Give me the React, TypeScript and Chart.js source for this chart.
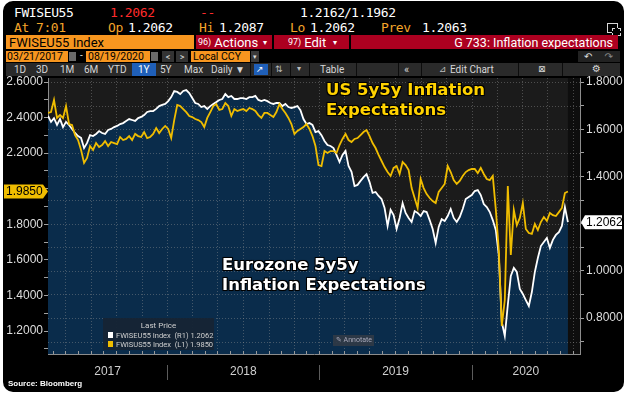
import React, { useEffect, useRef } from "react";
import { Chart, registerables } from "chart.js";

Chart.register(...registerables);

// ---------- data ----------
const START_UTC = Date.UTC(2017, 2, 21);
const END_UTC = Date.UTC(2020, 7, 19);
const MS_DAY = 86400000;
const X_AXIS_MAX_DAYS = 1276;

const yearLabels = ["2017", "2018", "2019", "2020"];
const leftTickValues = [1.1, 1.2, 1.3, 1.4, 1.5, 1.6, 1.7, 1.8, 1.9, 2.0, 2.1, 2.2, 2.3, 2.4, 2.5, 2.6];
const rightTickValues = [0.7, 0.8, 0.9, 1.0, 1.1, 1.2, 1.3, 1.4, 1.5, 1.6, 1.7, 1.8];

// FWISEU55 Index (Eurozone 5y5y), right axis, roughly weekly
const euValues = [
  1.656, 1.631, 1.647, 1.618, 1.643, 1.609, 1.631, 1.618, 1.601, 1.584,
  1.571, 1.563, 1.520, 1.542, 1.575, 1.571, 1.580, 1.592, 1.584, 1.580,
  1.597, 1.601, 1.609, 1.614, 1.622, 1.626, 1.635, 1.643, 1.639, 1.635,
  1.647, 1.652, 1.660, 1.673, 1.677, 1.677, 1.686, 1.698, 1.703, 1.707,
  1.719, 1.736, 1.762, 1.758, 1.749, 1.762, 1.766, 1.753, 1.732, 1.711,
  1.707, 1.694, 1.698, 1.686, 1.698, 1.707, 1.715, 1.724, 1.728, 1.749,
  1.736, 1.741, 1.728, 1.728, 1.732, 1.732, 1.728, 1.736, 1.736, 1.741,
  1.724, 1.719, 1.724, 1.719, 1.711, 1.707, 1.711, 1.711, 1.698, 1.707,
  1.694, 1.690, 1.694, 1.698, 1.681, 1.643, 1.622, 1.626, 1.618, 1.588,
  1.592, 1.575, 1.550, 1.533, 1.529, 1.520, 1.491, 1.461, 1.491, 1.508,
  1.444, 1.419, 1.359, 1.364, 1.381, 1.397, 1.410, 1.376, 1.330, 1.334,
  1.317, 1.304, 1.266, 1.190, 1.258, 1.236, 1.177, 1.224, 1.287, 1.245,
  1.224, 1.207, 1.253, 1.245, 1.232, 1.253, 1.249, 1.215, 1.177, 1.118,
  1.186, 1.219, 1.211, 1.232, 1.262, 1.224, 1.207, 1.228, 1.262, 1.304,
  1.313, 1.321, 1.338, 1.342, 1.321, 1.283, 1.270, 1.249, 1.215, 1.173,
  1.067, 0.783, 0.724, 0.855, 0.978, 1.012, 0.995, 0.923, 0.902, 0.876,
  0.851, 0.910, 0.995, 1.054, 1.105, 1.122, 1.139, 1.097, 1.131, 1.152,
  1.164, 1.190, 1.270, 1.2062,
];

// FWISUS55 Index (US 5y5y), left axis, roughly weekly
const usValues = [
  2.426, 2.431, 2.499, 2.398, 2.414, 2.398, 2.465, 2.364, 2.358, 2.302,
  2.274, 2.218, 2.145, 2.173, 2.240, 2.218, 2.257, 2.235, 2.246, 2.268,
  2.240, 2.263, 2.257, 2.251, 2.291, 2.274, 2.280, 2.296, 2.274, 2.308,
  2.296, 2.291, 2.319, 2.285, 2.291, 2.308, 2.341, 2.313, 2.336, 2.353,
  2.336, 2.285, 2.386, 2.471, 2.465, 2.448, 2.431, 2.409, 2.403, 2.392,
  2.386, 2.375, 2.347, 2.398, 2.431, 2.465, 2.476, 2.443, 2.448, 2.482,
  2.465, 2.409, 2.448, 2.437, 2.443, 2.448, 2.437, 2.454, 2.448, 2.437,
  2.414, 2.398, 2.426, 2.426, 2.414, 2.403, 2.431, 2.476, 2.448, 2.426,
  2.398, 2.364, 2.308, 2.325, 2.336, 2.347, 2.364, 2.336, 2.296, 2.240,
  2.133, 2.128, 2.212, 2.201, 2.212, 2.212, 2.201, 2.246, 2.280, 2.308,
  2.274, 2.263, 2.280, 2.285, 2.302, 2.319, 2.330, 2.296, 2.257, 2.229,
  2.190, 2.156, 2.122, 2.094, 2.072, 2.117, 2.128, 2.083, 2.150, 2.133,
  2.105, 2.004, 1.948, 1.892, 2.055, 2.004, 1.970, 1.948, 1.931, 1.920,
  1.982, 2.004, 2.027, 2.128, 2.094, 2.049, 2.027, 2.044, 2.072, 2.094,
  2.105, 2.111, 2.111, 2.088, 2.117, 2.083, 2.055, 2.049, 2.072, 1.886,
  1.656, 1.229, 1.375, 2.015, 1.628, 1.881, 1.796, 1.836, 1.920, 1.774,
  1.751, 1.746, 1.802, 1.768, 1.813, 1.841, 1.819, 1.864, 1.852, 1.847,
  1.869, 1.892, 1.976, 1.985,
];

const lastEU = 1.2062;
const lastUS = 1.985;

const LEFT_MIN = 1.0715;
const LEFT_MAX = 2.6225;
const RIGHT_MIN = 0.6475;
const RIGHT_MAX = 1.817;

// ---------- styles ----------
const YELLOW = "#f0bd00";
const YELLOW_TXT = "#ffd200";
const NAVY = "#0a2c4b";
const PLOT_BG = "#1b1b1b";
const PLOT_BG_AFTER = "#0e0e0e";
const GRID = "rgba(150,150,150,0.42)";
const MONO = '"DejaVu Sans Mono", "Liberation Mono", monospace';
const SANS = 'Roboto, "Liberation Sans", sans-serif';
const ARIAL = '"Liberation Sans", Arial, sans-serif';
const DJ = '"DejaVu Sans", Verdana, sans-serif';
const ORANGE_TXT = "#f4a52a";
const ORANGE_BOX = "#f7961f";
const RED_BOX = "#ac0020";
const RED_TXT = "#ff2b2b";

function tickLabel(v: number, last: number) {
  const t = Math.round(v * 10);
  if (t % 2 !== 0) return "";
  if (Math.abs(v - last) < 0.06) return "";
  return v.toFixed(4);
}

const T = ({ x, y, c = "#fff", s = 12, f = SANS, w = 400, children, st }: any) => (
  <div
    style={{
      position: "absolute",
      left: x,
      top: y,
      color: c,
      fontSize: s,
      fontFamily: f,
      fontWeight: w,
      lineHeight: 1,
      whiteSpace: "pre",
      ...st,
    }}
  >
    {children}
  </div>
);

const Box = ({ x, y, w, h, bg, children, st }: any) => (
  <div
    style={{
      position: "absolute",
      left: x,
      top: y,
      width: w,
      height: h,
      background: bg,
      display: "flex",
      alignItems: "center",
      overflow: "hidden",
      whiteSpace: "pre",
      ...st,
    }}
  >
    {children}
  </div>
);

const monoSt = { letterSpacing: -0.4 };
const outline = "1px 1px 0 #000, -1px -1px 0 #000, 1px -1px 0 #000, -1px 1px 0 #000, 0 0 2px #000";

export default function App() {
  const ref = useRef<HTMLCanvasElement>(null);

  useEffect(() => {
    const canvas = ref.current as HTMLCanvasElement;
    const span = (END_UTC - START_UTC) / MS_DAY;
    const step = span / (euValues.length - 1);
    const euData = euValues.map((v, i) => ({ x: i * step, y: v }));
    const usData = usValues.map((v, i) => ({ x: i * step, y: v }));
    const dayOf = (y: number, m: number) => (Date.UTC(y, m, 1) - START_UTC) / MS_DAY;
    const boundaries = [2018, 2019, 2020].map((y) => dayOf(y, 0));
    const edges = [0, ...boundaries, X_AXIS_MAX_DAYS];
    const yearMids = yearLabels.map((_, i) => (edges[i] + edges[i + 1]) / 2);
    const monthStarts: { d: number; m: number }[] = [];
    for (let y = 2017; y <= 2020; y++) {
      for (let m = 0; m < 12; m++) {
        const d = dayOf(y, m);
        if (d > 0 && d < X_AXIS_MAX_DAYS) monthStarts.push({ d, m });
      }
    }

    const decor = {
      id: "bbgDecor",
      beforeDraw(chart: any) {
        const { ctx, chartArea: a, scales } = chart;
        ctx.save();
        ctx.fillStyle = PLOT_BG;
        ctx.fillRect(a.left, a.top, a.right - a.left, a.bottom - a.top);
        const xEnd = scales.x.getPixelForValue(span);
        ctx.fillStyle = PLOT_BG_AFTER;
        ctx.fillRect(xEnd, a.top, a.right - xEnd, a.bottom - a.top);
        ctx.restore();
      },
      beforeDatasetsDraw(chart: any) {
        const { ctx, chartArea: a, scales } = chart;
        ctx.save();
        ctx.beginPath();
        ctx.rect(a.left, a.top, a.right - a.left, a.bottom - a.top);
        ctx.clip();
        ctx.strokeStyle = GRID;
        ctx.lineWidth = 1;
        ctx.setLineDash([1, 2]);
        ctx.beginPath();
        for (const v of rightTickValues) {
          const y = Math.round(scales.yR.getPixelForValue(v)) + 0.5;
          if (y <= a.top + 1 || y >= a.bottom - 1) continue;
          ctx.moveTo(a.left, y);
          ctx.lineTo(a.right, y);
        }
        for (const ms of monthStarts) {
          if (ms.m % 2 !== 0) continue;
          const x = Math.round(scales.x.getPixelForValue(ms.d)) + 0.5;
          ctx.moveTo(x, a.top);
          ctx.lineTo(x, a.bottom);
        }
        ctx.stroke();
        ctx.restore();
      },
      afterDraw(chart: any) {
        const { ctx, chartArea: a, scales } = chart;
        ctx.save();
        ctx.setLineDash([]);
        ctx.lineWidth = 1;
        // monthly tick marks
        ctx.strokeStyle = "#9a9a9a";
        ctx.beginPath();
        for (const ms of monthStarts) {
          const x = Math.round(scales.x.getPixelForValue(ms.d)) + 0.5;
          ctx.moveTo(x, a.bottom - 3);
          ctx.lineTo(x, a.bottom);
        }
        ctx.stroke();
        // year separators
        ctx.strokeStyle = "#5c5c5c";
        ctx.beginPath();
        for (const b of boundaries) {
          const x = Math.round(scales.x.getPixelForValue(b)) + 0.5;
          ctx.moveTo(x, a.bottom + 11);
          ctx.lineTo(x, a.bottom + 26);
        }
        ctx.stroke();
        // last value tags
        const yl = scales.yL.getPixelForValue(lastUS);
        ctx.fillStyle = YELLOW;
        ctx.beginPath();
        ctx.moveTo(a.left - 44, yl - 7);
        ctx.lineTo(a.left - 5, yl - 7);
        ctx.lineTo(a.left, yl);
        ctx.lineTo(a.left - 5, yl + 7);
        ctx.lineTo(a.left - 44, yl + 7);
        ctx.closePath();
        ctx.fill();
        ctx.fillStyle = "#000";
        ctx.font = `12px ${ARIAL}`;
        ctx.textBaseline = "middle";
        ctx.textAlign = "left";
        ctx.fillText(lastUS.toFixed(4), a.left - 42, yl + 0.5);

        const yr = scales.yR.getPixelForValue(lastEU);
        ctx.fillStyle = "#ffffff";
        ctx.beginPath();
        ctx.moveTo(a.right + 1, yr);
        ctx.lineTo(a.right + 5, yr - 7);
        ctx.lineTo(a.right + 42, yr - 7);
        ctx.lineTo(a.right + 42, yr + 7);
        ctx.lineTo(a.right + 5, yr + 7);
        ctx.closePath();
        ctx.fill();
        ctx.fillStyle = "#000";
        ctx.fillText(lastEU.toFixed(4), a.right + 6, yr + 0.5);
        ctx.restore();
      },
    };

    const chart = new Chart(canvas, {
      type: "line",
      data: {
        datasets: [
          {
            label: "FWISUS55 Index",
            data: usData,
            yAxisID: "yL",
            borderColor: YELLOW,
            borderWidth: 1.8,
            pointRadius: 0,
            fill: false,
            order: 0,
          },
          {
            label: "FWISEU55 Index",
            data: euData,
            yAxisID: "yR",
            borderColor: "#ffffff",
            borderWidth: 1.8,
            pointRadius: 0,
            fill: "start",
            backgroundColor: NAVY,
            order: 1,
          },
        ],
      } as any,
      options: {
        responsive: false,
        animation: false,
        events: [],
        layout: { padding: { top: 10, left: 0, right: 0, bottom: 0 } },
        elements: { line: { tension: 0 } },
        plugins: {
          legend: { display: false },
          tooltip: { enabled: false },
          filler: { drawTime: "beforeDatasetsDraw" },
        } as any,
        scales: {
          x: {
            type: "linear",
            min: 0,
            max: X_AXIS_MAX_DAYS,
            afterBuildTicks: (s: any) => {
              s.ticks = yearMids.map((v) => ({ value: v }));
            },
            afterFit: (s: any) => {
              s.height = 26;
            },
            ticks: {
              autoSkip: false,
              maxRotation: 0,
              minRotation: 0,
              padding: 10,
              color: "#cfcfcf",
              font: { family: ARIAL, size: 12 },
              callback: (_v: any, i: number) => yearLabels[i],
            },
            grid: { display: false, drawTicks: false },
            border: { display: true, color: "#8c8c8c", width: 1 },
          },
          yL: {
            type: "linear",
            position: "left",
            min: LEFT_MIN,
            max: LEFT_MAX,
            afterBuildTicks: (s: any) => {
              s.ticks = leftTickValues.map((v) => ({ value: v }));
            },
            afterFit: (s: any) => {
              s.width = 48;
            },
            ticks: {
              autoSkip: false,
              padding: 1,
              color: "#dedede",
              font: { family: ARIAL, size: 12 },
              callback: (v: any) => tickLabel(Number(v), lastUS),
            },
            grid: {
              display: true,
              drawOnChartArea: false,
              drawTicks: true,
              tickLength: 4,
              tickColor: "#a0a0a0",
              color: "#a0a0a0",
            },
            border: { display: true, color: "#8c8c8c" },
          },
          yR: {
            type: "linear",
            position: "right",
            min: RIGHT_MIN,
            max: RIGHT_MAX,
            afterBuildTicks: (s: any) => {
              s.ticks = rightTickValues.map((v) => ({ value: v }));
            },
            afterFit: (s: any) => {
              s.width = 48;
            },
            ticks: {
              autoSkip: false,
              padding: 2,
              color: "#dedede",
              font: { family: ARIAL, size: 12 },
              callback: (v: any) => tickLabel(Number(v), lastEU),
            },
            grid: {
              display: true,
              drawOnChartArea: false,
              drawTicks: true,
              tickLength: 4,
              tickColor: "#a0a0a0",
              color: "#a0a0a0",
            },
            border: { display: true, color: "#8c8c8c" },
          },
        },
      } as any,
      plugins: [decor as any],
    });
    return () => chart.destroy();
  }, []);

  return (
    <div
      style={{
        position: "fixed",
        left: 0,
        top: 0,
        width: 628,
        height: 394,
        background: "#ffffff",
        overflow: "hidden",
        fontFamily: SANS,
      }}
    >
      <div
        style={{
          position: "absolute",
          left: 3,
          top: 1,
          width: 621,
          height: 391,
          background: "#000",
          borderRadius: 10,
        }}
      />

      {/* Row 1 */}
      <T x={14} y={6} f={MONO} s={13} st={monoSt}>FWISEU55</T>
      <T x={110} y={6} f={MONO} s={13} c={RED_TXT} st={monoSt}>1.2062</T>
      <T x={200} y={6} f={MONO} s={13} c={RED_TXT} st={monoSt}>--</T>
      <T x={300} y={6} f={MONO} s={13} st={monoSt}>1.2162</T>
      <T x={344} y={6} f={MONO} s={13} st={monoSt}>/</T>
      <T x={351} y={6} f={MONO} s={13} st={monoSt}>1.1962</T>

      {/* Row 2 */}
      <T x={14} y={21} f={MONO} s={13} c={ORANGE_TXT} st={monoSt}>At</T>
      <T x={36} y={21} f={MONO} s={13} c={ORANGE_TXT} st={monoSt}>7:01</T>
      <T x={108} y={21} f={MONO} s={13} c={ORANGE_TXT} st={monoSt}>Op</T>
      <T x={128} y={21} f={MONO} s={13} st={monoSt}>1.2062</T>
      <T x={199} y={21} f={MONO} s={13} c={ORANGE_TXT} st={monoSt}>Hi</T>
      <T x={219} y={21} f={MONO} s={13} st={monoSt}>1.2087</T>
      <T x={290} y={21} f={MONO} s={13} c={ORANGE_TXT} st={monoSt}>Lo</T>
      <T x={310} y={21} f={MONO} s={13} st={monoSt}>1.2062</T>
      <T x={381} y={21} f={MONO} s={13} c={ORANGE_TXT} st={monoSt}>Prev</T>
      <T x={422} y={21} f={MONO} s={13} st={monoSt}>1.2063</T>
      <div
        style={{
          position: "absolute",
          left: 607,
          top: 23,
          width: 9,
          height: 8,
          border: "1.5px solid #d8d8d8",
        }}
      />
      <div
        style={{
          position: "absolute",
          left: 612,
          top: 28,
          width: 7,
          height: 6,
          border: "1px dashed #d8d8d8",
          background: "#000",
        }}
      />

      {/* Row 3 */}
      <Box x={6} y={35} w={188} h={14} bg={ORANGE_BOX}>
        <span style={{ color: "#000", fontSize: 13, marginLeft: 3 }}>FWISEU55 Index</span>
      </Box>
      <Box x={196} y={35} w={76} h={14} bg={RED_BOX}>
        <span style={{ color: "#fff", fontSize: 9, marginLeft: 2 }}>96)</span>
        <span style={{ color: "#fff", fontSize: 13, marginLeft: 3 }}>Actions</span>
        <span style={{ color: "#fff", fontSize: 8, marginLeft: 5 }}>▾</span>
      </Box>
      <Box x={274} y={35} w={75} h={14} bg={RED_BOX}>
        <span style={{ color: "#fff", fontSize: 9, marginLeft: 14 }}>97)</span>
        <span style={{ color: "#fff", fontSize: 13, marginLeft: 3 }}>Edit</span>
        <span style={{ color: "#fff", fontSize: 8, marginLeft: 7 }}>▾</span>
      </Box>
      <Box x={351} y={35} w={267} h={14} bg={RED_BOX} st={{ justifyContent: "flex-end" }}>
        <span style={{ color: "#fff", fontSize: 12.5, marginRight: 5 }}>G 733: Inflation expectations</span>
      </Box>

      {/* Row 4 */}
      <Box x={6} y={51} w={62} h={11} bg={ORANGE_BOX}>
        <span style={{ color: "#000", fontSize: 10.5, marginLeft: 1 }}>03/21/2017</span>
      </Box>
      <Box x={69} y={52} w={7} h={9} bg="#6a6a6a" />
      <T x={80} y={51} s={10} c="#ddd">-</T>
      <Box x={86} y={51} w={64} h={11} bg={ORANGE_BOX}>
        <span style={{ color: "#000", fontSize: 10.5, marginLeft: 2 }}>08/19/2020</span>
      </Box>
      <Box x={151} y={52} w={7} h={9} bg="#6a6a6a" />
      <Box x={162} y={51} w={12} h={11} bg="#333" st={{ justifyContent: "center" }}>
        <span style={{ color: "#ddd", fontSize: 9 }}>&lt;</span>
      </Box>
      <Box x={176} y={51} w={12} h={11} bg="#333" st={{ justifyContent: "center" }}>
        <span style={{ color: "#ddd", fontSize: 9 }}>&gt;</span>
      </Box>
      <Box x={191} y={51} w={59} h={11} bg={ORANGE_BOX}>
        <span style={{ color: "#000", fontSize: 10.5, marginLeft: 2 }}>Local CCY</span>
      </Box>
      <Box x={251} y={51} w={8} h={11} bg="#3a3a3a" st={{ justifyContent: "center" }}>
        <span style={{ color: "#ddd", fontSize: 7 }}>▾</span>
      </Box>
      <Box x={578} y={51} w={42} h={11} bg="#222">
        <span style={{ color: "#ddd", fontSize: 10, fontFamily: DJ, marginLeft: 6 }}>↶</span>
        <span style={{ color: "#888", fontSize: 10, fontFamily: DJ, marginLeft: 12 }}>↷</span>
      </Box>

      {/* Row 5 */}
      <Box x={6} y={63} w={614} h={13} bg="#2a2a2a" />
      <Box x={132} y={63} w={24} h={13} bg="#1f5fb8" />
      <Box x={254} y={64} w={14} h={11} bg="#1f5fb8" />
      {[250, 271, 290, 309, 356, 398, 421, 518, 562].map((x) => (
        <div key={x} style={{ position: "absolute", left: x, top: 63, width: 1, height: 13, background: "#0c0c0c" }} />
      ))}
      <T x={14} y={64.5} s={10} c="#d6d6d6">1D</T>
      <T x={36} y={64.5} s={10} c="#d6d6d6">3D</T>
      <T x={60} y={64.5} s={10} c="#d6d6d6">1M</T>
      <T x={84} y={64.5} s={10} c="#d6d6d6">6M</T>
      <T x={108} y={64.5} s={10} c="#d6d6d6">YTD</T>
      <T x={138} y={64.5} s={10} c="#ffffff">1Y</T>
      <T x={160} y={64.5} s={10} c="#d6d6d6">5Y</T>
      <T x={184} y={64.5} s={10} c="#d6d6d6">Max</T>
      <T x={211} y={64.5} s={10} c="#d6d6d6">Daily ▼</T>
      <T x={256} y={64.5} s={9} f={DJ} c="#ffffff">↗</T>
      <T x={275} y={64.5} s={9} f={DJ} c="#bdbdbd">⇅</T>
      <T x={297} y={64.5} s={8} f={DJ} c="#bdbdbd">▾</T>
      <T x={320} y={64.5} s={10} c="#d6d6d6">Table</T>
      <T x={404} y={64} s={11} c="#d6d6d6">«</T>
      <T x={439} y={64.5} s={9} f={DJ} c="#bdbdbd">⊿</T>
      <T x={450} y={64.5} s={10} c="#d6d6d6">Edit Chart</T>
      <T x={538} y={64.5} s={9} f={DJ} c="#d6d6d6">⊠</T>
      <T x={592} y={64} s={10} f={DJ} c="#d6d6d6">⚙</T>

      {/* Chart */}
      <canvas
        ref={ref}
        width={628}
        height={312}
        style={{ position: "absolute", left: 0, top: 68, width: 628, height: 312 }}
      />

      {/* Annotations */}
      <div
        style={{
          position: "absolute",
          left: 326,
          top: 79.5,
          color: YELLOW_TXT,
          fontFamily: DJ,
          fontWeight: 700,
          fontSize: 16.5,
          lineHeight: "20px",
          whiteSpace: "pre",
          textShadow: outline,
        }}
      >
        {"US 5y5y Inflation\nExpectations"}
      </div>
      <div
        style={{
          position: "absolute",
          left: 222,
          top: 254.5,
          color: "#ffffff",
          fontFamily: DJ,
          fontWeight: 700,
          fontSize: 16.5,
          lineHeight: "20px",
          whiteSpace: "pre",
          textShadow: outline,
        }}
      >
        {"Eurozone 5y5y\nInflation Expectations"}
      </div>

      {/* Legend box */}
      <div
        style={{
          position: "absolute",
          left: 103,
          top: 318,
          width: 111,
          height: 32,
          background: "rgba(22,36,52,0.96)",
          color: "#cfcfcf",
          fontFamily: SANS,
        }}
      >
        <div style={{ position: "absolute", left: 0, width: 111, top: 4, textAlign: "center", fontSize: 8, lineHeight: 1 }}>
          Last Price
        </div>
        <div style={{ position: "absolute", left: 5, top: 14, width: 5, height: 6, background: "#ffffff" }} />
        <div style={{ position: "absolute", left: 13, top: 13.5, fontSize: 7.5, lineHeight: 1, whiteSpace: "pre" }}>
          {"FWISEU55 Index  (R1) 1.2062"}
        </div>
        <div style={{ position: "absolute", left: 5, top: 23, width: 5, height: 6, background: YELLOW }} />
        <div style={{ position: "absolute", left: 13, top: 22.5, fontSize: 7.5, lineHeight: 1, whiteSpace: "pre" }}>
          {"FWISUS55 Index  (L1) 1.9850"}
        </div>
      </div>

      {/* Annotate button */}
      <div
        style={{
          position: "absolute",
          left: 333,
          top: 335,
          width: 41,
          height: 11,
          background: "rgba(48,58,70,0.9)",
          color: "#aab",
          fontSize: 7,
          lineHeight: "11px",
          whiteSpace: "pre",
          fontFamily: SANS,
        }}
      >
        <span style={{ fontFamily: DJ, marginLeft: 3 }}>✎</span> Annotate
      </div>

      {/* Source */}
      <T x={8} y={380} s={8} w={700} f={ARIAL} c="#ffffff">Source: Bloomberg</T>
    </div>
  );
}
